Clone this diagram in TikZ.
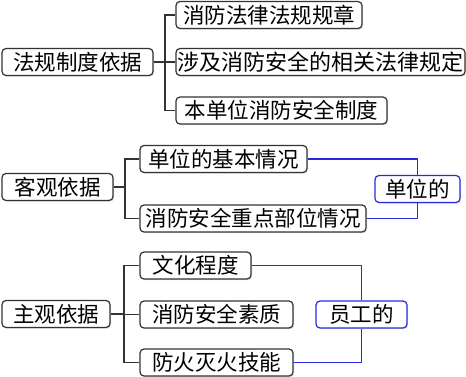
\documentclass[tikz,border=0pt]{standalone}
\usepackage{fontspec}
\setmainfont{Noto Sans CJK SC}
\usepackage{xcolor}
\definecolor{inkgray}{rgb}{0.2, 0.2, 0.2}
\definecolor{linkblue}{rgb}{0.16, 0.16, 0.88}
\usepackage{tikz}
\usetikzlibrary{positioning,calc,shadows}
\tikzset{
  box/.style={rectangle,draw=inkgray,line width=1.2pt,rounded corners=4pt,fill=white,
    minimum height=27pt,inner sep=0pt,text=black,
    drop shadow={shadow xshift=1.2pt,shadow yshift=-1.2pt,fill=gray!35,opacity=0.7}},
  topic/.style={box},
  item/.style={box},
  tag/.style={box,draw=linkblue},
  edge/.style={draw=inkgray,line width=1.2pt},
  link/.style={draw=linkblue,line width=1.2pt}
}

\begin{document}
\begin{tikzpicture}[x=1pt,y=-1pt,font=\fontsize{21.5}{24}\selectfont]
  \useasboundingbox[fill=white] (0,0) rectangle (466,377);

  % 法规制度依据
  \node[topic,minimum width=151pt] (law) at (77.5,62) {法规制度依据};
  \node[item,minimum width=186pt] (lawA) at (269,15) {消防法律法规规章};
  \node[item,minimum width=289pt,font=\fontsize{22}{24}\selectfont] (lawB) at (320.5,62) {涉及消防安全的相关法律规定};
  \node[item,minimum width=211pt] (lawC) at (281.5,110.5) {本单位消防安全制度};
  \coordinate (jLaw) at (165,62);
  \draw[edge] (law.east) -- (jLaw);
  \foreach \n in {lawA,lawB,lawC}
    \draw[edge] (jLaw) |- (\n.west);

  % 客观依据
  \node[topic,minimum width=111pt] (obj) at (57.5,187) {客观依据};
  \node[item,minimum width=167pt] (objA) at (223.5,159) {单位的基本情况};
  \node[item,minimum width=226pt] (objB) at (253,218.5) {消防安全重点部位情况};
  \node[tag,minimum width=85pt] (unit) at (417.5,189) {单位的};
  \coordinate (jObj) at (125,187);
  \draw[edge] (obj.east) -- (jObj);
  \foreach \n in {objA,objB}
    \draw[edge] (jObj) |- (\n.west);
  \draw[link] (objA.east) -| (unit.north);
  \draw[link] (objB.east) -| (unit.south);

  % 主观依据
  \node[topic,minimum width=108pt] (subj) at (56,314) {主观依据};
  \node[item,minimum width=111pt] (subjA) at (195.5,265.5) {文化程度};
  \node[item,minimum width=153pt] (subjB) at (216.5,314.5) {消防安全素质};
  \node[item,minimum width=153pt] (subjC) at (216.5,362.5) {防火灭火技能};
  \node[tag,minimum width=91pt] (staff) at (361.5,314.5) {员工的};
  \coordinate (jSubj) at (124,314);
  \draw[edge] (subj.east) -- (jSubj);
  \foreach \n in {subjA,subjB,subjC}
    \draw[edge] (jSubj) |- (\n.west);
  \draw[link] (subjA.east) -| (staff.north);
  \draw[link] (subjC.east) -| (staff.south);
\end{tikzpicture}
\end{document}
